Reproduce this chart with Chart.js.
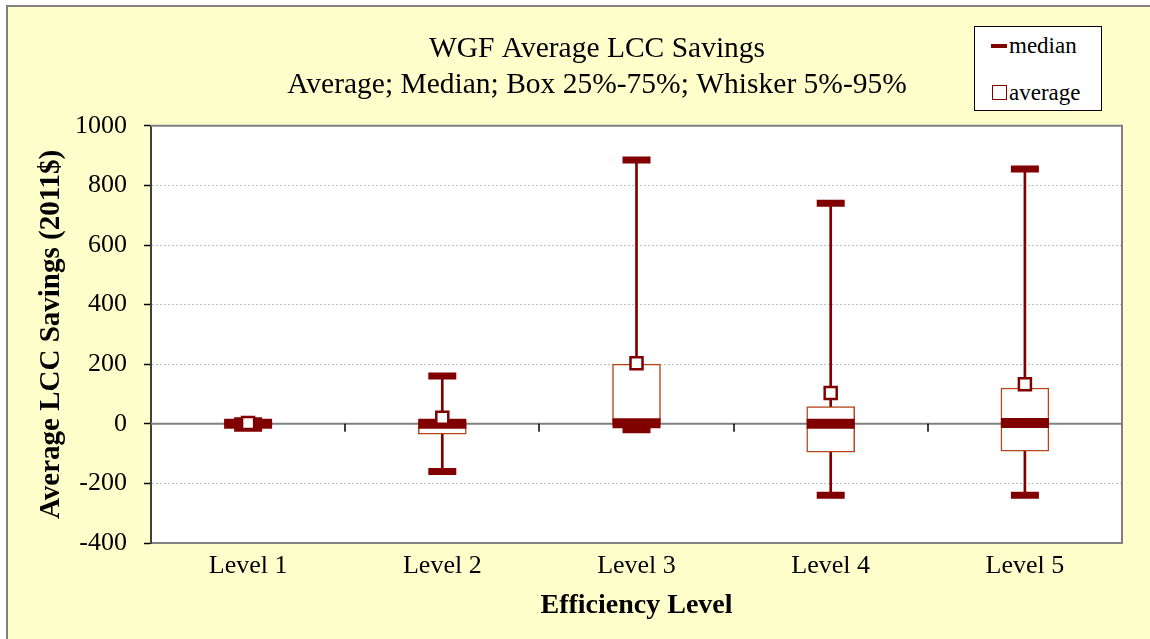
<!DOCTYPE html>
<html>
<head>
<meta charset="utf-8">
<script src="https://cdn.jsdelivr.net/npm/chart.js@4.4.0/dist/chart.umd.min.js"></script>
<style>
  html, body { margin: 0; padding: 0; background: #ffffff; overflow: hidden; width: 1150px; height: 639px; }
  #frame { position: absolute; left: 6px; top: 5px; width: 1178px; height: 640px;
           border-left: 2px solid #808080; border-top: 2px solid #808080; background: #FFFFCC; }
  #wrap { position: absolute; left: 0; top: 0; width: 1178px; height: 632px; }
  #legend { position: absolute; left: 974px; top: 26px; width: 126px; height: 83px;
            background: #ffffff; border: 1px solid #000000; font-family: 'Liberation Serif', serif;
            font-size: 23px; color: #000; }
  .item { position: absolute; left: 34px; height: 26px; line-height: 26px; white-space: nowrap; }
  .mk-med { position: absolute; left: 16px; width: 16px; height: 4px; background: #800000; }
  .mk-avg { position: absolute; left: 17px; width: 13px; height: 13px; border: 1.5px solid #800000; background: #fff; }
</style>
</head>
<body>
<div id="frame"><div id="wrap"><canvas id="c"></canvas></div></div>
<div id="legend">
  <div class="mk-med" style="top:17px"></div><div class="item" style="top:6px">median</div>
  <div class="mk-avg" style="top:58px"></div><div class="item" style="top:53px">average</div>
</div>
<script>
const categories = ['Level 1', 'Level 2', 'Level 3', 'Level 4', 'Level 5'];
const p5      = [-15, -160, -20, -240, -240];
const q1      = [-5, -35, -5, -95, -92];
const median  = [0, 0, 2, 0, 3];
const q3      = [5, 10, 200, 58, 120];
const p95     = [10, 160, 885, 740, 855];
const average = [3, 20, 203, 103, 133];
const yTicks  = { min: -400, max: 1000, step: 200 };

const DARK = '#800000';
const BOXC = '#B5451B';
const SERIF = "'Liberation Serif', 'Times New Roman', serif";

const plotDecor = {
  id: 'plotDecor',
  beforeDraw(chart) {
    const a = chart.chartArea, ctx = chart.ctx;
    ctx.save();
    ctx.fillStyle = '#ffffff';
    ctx.fillRect(a.left, a.top, a.right - a.left, a.bottom - a.top);
    ctx.restore();
  },
  beforeDatasetsDraw(chart) {
    const a = chart.chartArea, ctx = chart.ctx;
    const ys = chart.scales.y, xs = chart.scales.x;
    const y0 = ys.getPixelForValue(0);
    ctx.save();
    ctx.strokeStyle = '#808080';
    ctx.lineWidth = 2;
    ctx.beginPath();
    ctx.moveTo(a.left, a.top); ctx.lineTo(a.right, a.top); ctx.lineTo(a.right, a.bottom);
    ctx.stroke();
    ctx.beginPath();
    ctx.moveTo(a.left, y0); ctx.lineTo(a.right, y0);
    ctx.stroke();
    ctx.strokeStyle = '#000000';
    ctx.lineWidth = 1.5;
    for (let i = 0; i < categories.length - 1; i++) {
      const x = Math.round((xs.getPixelForValue(i) + xs.getPixelForValue(i + 1)) / 2);
      ctx.beginPath();
      ctx.moveTo(x, y0); ctx.lineTo(x, y0 + 8);
      ctx.stroke();
    }
    ctx.restore();
  }
};

new Chart(document.getElementById('c'), {
  type: 'bar',
  data: {
    labels: categories,
    datasets: [
      { label: 'whisker', data: p5.map((v, i) => [v, p95[i]]), backgroundColor: DARK,
        barThickness: 2, grouped: false, order: 10, borderWidth: 0 },
      { label: 'box', data: q1.map((v, i) => [v, q3[i]]), backgroundColor: '#ffffff',
        borderColor: BOXC, borderWidth: 1.5, borderSkipped: false, barThickness: 48, grouped: false, order: 9 },
      { label: 'median', type: 'line', data: median, showLine: false, pointStyle: 'line',
        pointRadius: 24, pointHoverRadius: 24, pointBorderWidth: 10, borderColor: DARK, pointBorderColor: DARK, order: 8 },
      { label: 'p5', type: 'line', data: p5, showLine: false, pointStyle: 'line',
        pointRadius: 14, pointHoverRadius: 14, pointBorderWidth: 7, borderColor: DARK, pointBorderColor: DARK, order: 7 },
      { label: 'p95', type: 'line', data: p95, showLine: false, pointStyle: 'line',
        pointRadius: 14, pointHoverRadius: 14, pointBorderWidth: 7, borderColor: DARK, pointBorderColor: DARK, order: 6 },
      { label: 'average', type: 'line', data: average, showLine: false, pointStyle: 'rect',
        pointRadius: 8.5, pointHoverRadius: 8.5, pointBorderWidth: 2.5, borderColor: DARK,
        pointBorderColor: DARK, pointBackgroundColor: '#ffffff', backgroundColor: '#ffffff', order: 1 }
    ]
  },
  options: {
    responsive: true,
    maintainAspectRatio: false,
    animation: false,
    events: [],
    layout: { padding: 0 },
    plugins: {
      legend: { display: false },
      tooltip: { enabled: false },
      title: {
        display: true,
        text: ['WGF Average LCC Savings', 'Average; Median; Box 25%-75%; Whisker 5%-95%'],
        font: { family: SERIF, size: 29.5, weight: 'normal', lineHeight: 1.2 },
        color: '#000000',
        padding: { top: 25, bottom: 23 }
      }
    },
    scales: {
      x: {
        offset: true,
        grid: { display: false, drawTicks: false },
        border: { display: true, color: '#808080', width: 2 },
        ticks: { color: '#000', font: { family: SERIF, size: 26 }, padding: 8 },
        title: { display: true, text: 'Efficiency Level', color: '#000',
                 font: { family: SERIF, size: 28, weight: 'bold', lineHeight: 1.2 },
                 padding: { top: 0, bottom: 16 } },
        afterFit(s) { s.height = 96; }
      },
      y: {
        min: yTicks.min, max: yTicks.max,
        ticks: { stepSize: yTicks.step, color: '#000', font: { family: SERIF, size: 26 }, padding: 17,
                 callback: (v) => String(v) },
        grid: { color: '#c0c0c0', lineWidth: 1, drawTicks: true, tickLength: 7, tickColor: '#000', tickWidth: 1.5 },
        border: { display: true, color: '#404040', width: 2, dash: [2, 2] },
        title: { display: true, text: 'Average LCC Savings (2011$)', color: '#000',
                 font: { family: SERIF, size: 29, weight: 'bold', lineHeight: 1.2 },
                 padding: { top: 26, bottom: 0 } },
        afterFit(s) { s.width = 143; }
      },
      yRight: {
        position: 'right',
        min: yTicks.min, max: yTicks.max,
        grid: { display: false, drawOnChartArea: false, drawTicks: false },
        border: { display: false },
        ticks: { display: false },
        afterFit(s) { s.width = 64; }
      }
    }
  },
  plugins: [plotDecor]
});
</script>
</body>
</html>
